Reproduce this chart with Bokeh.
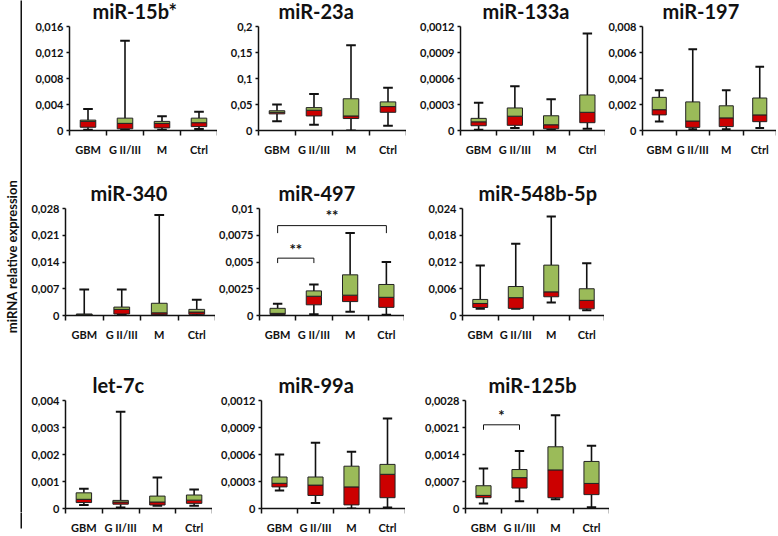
import numpy as np
from bokeh.plotting import figure
from bokeh.layouts import row, column
from bokeh.models import (FixedTicker, CustomJSTickFormatter, Range1d, LinearAxis,
                          Title, ColumnDataSource)
from bokeh.embed import file_html
from bokeh.resources import INLINE
from bokeh.core.properties import value

# ---------------- data ----------------
groups = ["GBM", "G II/III", "M", "Ctrl"]

# five-number summaries, one value per group (GBM, G II/III, M, Ctrl)
mir15b_star = dict(lo=[0.0001, 0.0001, 0.0001, 0.00025],
                   q1=[0.0005, 0.00026, 0.0004, 0.0006],
                   med=[0.0014, 0.0011, 0.0011, 0.0012],
                   q3=[0.0016, 0.0019, 0.0014, 0.0019],
                   hi=[0.0033, 0.0138, 0.0022, 0.0029])
mir23a = dict(lo=[0.018, 0.011, 0.0, 0.009],
              q1=[0.032, 0.028, 0.023, 0.035],
              med=[0.035, 0.039, 0.028, 0.046],
              q3=[0.038, 0.044, 0.061, 0.055],
              hi=[0.050, 0.070, 0.164, 0.082])
mir133a = dict(lo=[0.00001, 0.00003, 0.000005, 0.00002],
               q1=[0.000055, 0.00006, 0.00002, 0.00009],
               med=[0.0001, 0.000165, 0.000066, 0.00021],
               q3=[0.00014, 0.00026, 0.00017, 0.00041],
               hi=[0.00032, 0.00051, 0.00036, 0.00112])
mir197 = dict(lo=[0.0007, 0.0001, 0.0001, 0.0002],
              q1=[0.0012, 0.00024, 0.0003, 0.00068],
              med=[0.0016, 0.00073, 0.00097, 0.0012],
              q3=[0.00255, 0.0022, 0.0019, 0.0025],
              hi=[0.0031, 0.00625, 0.0031, 0.0049])
mir340 = dict(lo=[0.0, 0.0001, 0.0, 0.0],
              q1=[0.0001, 0.0004, 0.0002, 0.0003],
              med=[0.0002, 0.0016, 0.0007, 0.0009],
              q3=[0.0004, 0.0022, 0.0032, 0.0016],
              hi=[0.0068, 0.0068, 0.0263, 0.0041])
mir497 = dict(lo=[0.0, 0.00012, 0.00036, 0.00006],
              q1=[0.0001, 0.001, 0.0013, 0.00076],
              med=[0.0002, 0.0018, 0.0019, 0.0017],
              q3=[0.00067, 0.0023, 0.0038, 0.0029],
              hi=[0.0011, 0.0029, 0.0077, 0.005])
mir548b_5p = dict(lo=[0.0015, 0.0015, 0.0029, 0.0012],
                  q1=[0.0018, 0.0016, 0.0042, 0.0015],
                  med=[0.0027, 0.004, 0.0053, 0.0034],
                  q3=[0.0036, 0.0065, 0.0113, 0.006],
                  hi=[0.0112, 0.0161, 0.0222, 0.0117])
let7c = dict(lo=[0.00013, 0.00004, 0.0001, 0.0001],
             q1=[0.00022, 0.00016, 0.00013, 0.00019],
             med=[0.00034, 0.00024, 0.00024, 0.00031],
             q3=[0.00058, 0.0003, 0.00046, 0.0005],
             hi=[0.00073, 0.00358, 0.00115, 0.0007])
mir99a = dict(lo=[0.0002, 0.00006, 0.0, 0.00001],
              q1=[0.00024, 0.000145, 0.00004, 0.00012],
              med=[0.00028, 0.00026, 0.00024, 0.00038],
              q3=[0.00035, 0.00035, 0.00047, 0.00049],
              hi=[0.0006, 0.00073, 0.00063, 0.001])
mir125b = dict(lo=[0.00013, 0.00019, 0.00024, 0.00003],
               q1=[0.00028, 0.00053, 0.00028, 0.00036],
               med=[0.00034, 0.0008, 0.001, 0.00065],
               q3=[0.00059, 0.00101, 0.0016, 0.00122],
               hi=[0.00104, 0.00149, 0.00242, 0.00163])

# y-axis tick values per panel
ticks_15b = [0, 0.004, 0.008, 0.012, 0.016]
ticks_23a = [0, 0.05, 0.1, 0.15, 0.2]
ticks_133a = [0, 0.0003, 0.0006, 0.0009, 0.0012]
ticks_197 = [0, 0.002, 0.004, 0.006, 0.008]
ticks_340 = [0, 0.007, 0.014, 0.021, 0.028]
ticks_497 = [0, 0.0025, 0.005, 0.0075, 0.01]
ticks_548 = [0, 0.006, 0.012, 0.018, 0.024]
ticks_let7c = [0, 0.001, 0.002, 0.003, 0.004]
ticks_99a = [0, 0.0003, 0.0006, 0.0009, 0.0012]
ticks_125b = [0, 0.0007, 0.0014, 0.0021, 0.0028]

# significance brackets: (from group, to group, bar y, end y, star y, label)
brackets_497 = [(0, 1, 0.00536, 0.0049, 0.0062, "**"),
                (0, 3, 0.0084, 0.0077, 0.0094, "**")]
brackets_125b = [(0, 1, 0.00217, 0.00204, 0.00242, "*")]

y_title = "miRNA relative expression"

# ---------------- style / layout ----------------
FONT = "Lato"
GREEN = "#9BBB59"
RED = "#CC0000"
INK = "#111111"
BOX_W = 0.42
CAP_HALF = 0.13
TITLE_STANDOFF = 8

ROOT_TOP = -12
# row extents in window pixels (top, bottom)
ROWS = [(ROOT_TOP, 174), (174, 366), (366, 536)]
STRIP_RIGHT = 22
STRIP_SPLIT = 512   # y-title is centred on the upper part of the rule
RULE_END = 528

# frame geometry: left, right, top, bottom, title left offset
panels = [
    [("miR-15b*", mir15b_star, ticks_15b, [], (69, 217, 26, 130, 23)),
     ("miR-23a", mir23a, ticks_23a, [], (258, 406, 23, 133, 20)),
     ("miR-133a", mir133a, ticks_133a, [], (460, 605, 22, 132, 22)),
     ("miR-197", mir197, ticks_197, [], (641, 776, 20, 130, 20))],
    [("miR-340", mir340, ticks_340, [], (65, 215, 208, 315, 25)),
     ("miR-497", mir497, ticks_497, brackets_497, (259, 404, 206, 316, 19)),
     ("miR-548b-5p", mir548b_5p, ticks_548, [], (462, 604, 207, 316, 16))],
    [("let-7c", let7c, ticks_let7c, [], (65, 212, 398, 509, 27)),
     ("miR-99a", mir99a, ticks_99a, [], (261, 405, 399, 509, 17)),
     ("miR-125b", mir125b, ticks_125b, brackets_125b, (465, 609, 399, 510, 23))],
]


def make_panel(title, stats, yticks, brackets, g, fig_left, row_top, row_bottom):
    fl, fr, ft, fb, tdx = g
    n = len(groups)
    p = figure(width=fr - fig_left, height=row_bottom - row_top,
               x_range=Range1d(0, n), y_range=Range1d(0, yticks[-1]),
               title=None, toolbar_location=None, output_backend="svg",
               x_axis_location=None, y_axis_location=None,
               min_border_left=fl - fig_left, min_border_right=0,
               min_border_top=ft - row_top, min_border_bottom=row_bottom - fb,
               outline_line_color=None, background_fill_color="white",
               border_fill_color="white")
    p.grid.visible = False
    p.title = Title(text=title, align="left", offset=tdx, standoff=TITLE_STANDOFF,
                    text_font=FONT, text_font_size="20px", text_font_style="bold",
                    text_color=INK)

    xs = np.arange(n) + 0.5
    src = ColumnDataSource(dict(x=xs, cl=xs - CAP_HALF, cr=xs + CAP_HALF,
                                lo=stats["lo"], q1=stats["q1"], med=stats["med"],
                                q3=stats["q3"], hi=stats["hi"]))
    p.segment(x0="x", y0="q3", x1="x", y1="hi", source=src, line_color=INK, line_width=1.6)
    p.segment(x0="x", y0="lo", x1="x", y1="q1", source=src, line_color=INK, line_width=1.6)
    p.segment(x0="cl", y0="hi", x1="cr", y1="hi", source=src, line_color=INK, line_width=2)
    p.segment(x0="cl", y0="lo", x1="cr", y1="lo", source=src, line_color=INK, line_width=2)
    p.vbar(x="x", width=BOX_W, bottom="q1", top="med", source=src,
           fill_color=RED, line_color="#222222", line_width=1)
    p.vbar(x="x", width=BOX_W, bottom="med", top="q3", source=src,
           fill_color=GREEN, line_color="#222222", line_width=1)

    if brackets:
        bx0 = [b[0] + 0.5 for b in brackets]
        bx1 = [b[1] + 0.5 for b in brackets]
        bsrc = ColumnDataSource(dict(x0=bx0, x1=bx1,
                                     bar=[b[2] for b in brackets],
                                     end=[b[3] for b in brackets],
                                     xm=[(a + b) / 2 for a, b in zip(bx0, bx1)],
                                     sy=[b[4] for b in brackets],
                                     lab=[b[5] for b in brackets]))
        p.segment(x0="x0", y0="bar", x1="x1", y1="bar", source=bsrc, line_color=INK, line_width=1)
        p.segment(x0="x0", y0="bar", x1="x0", y1="end", source=bsrc, line_color=INK, line_width=1)
        p.segment(x0="x1", y0="bar", x1="x1", y1="end", source=bsrc, line_color=INK, line_width=1)
        p.text(x="xm", y="sy", text="lab", source=bsrc, text_font=value(FONT),
               text_font_style="bold", text_font_size="15px", text_align="center",
               text_baseline="middle", text_color=INK)

    yax = LinearAxis(ticker=FixedTicker(ticks=yticks),
                     formatter=CustomJSTickFormatter(code="return tick.toString().replace('.', ',');"),
                     major_tick_out=3, major_tick_in=0, minor_tick_out=0, minor_tick_in=0,
                     major_label_standoff=3, axis_line_width=1.5, axis_line_color=INK,
                     major_tick_line_width=1.5, major_tick_line_color=INK,
                     major_label_text_font=FONT, major_label_text_font_size="11px",
                     major_label_text_font_style="bold", major_label_text_color=INK)
    p.add_layout(yax, "left")

    xax = LinearAxis(ticker=FixedTicker(ticks=[float(v) for v in xs],
                                        minor_ticks=[float(v) for v in range(n + 1)]),
                     formatter=CustomJSTickFormatter(args=dict(labels=groups),
                                                     code="return labels[Math.floor(tick)];"),
                     major_tick_out=0, major_tick_in=0, major_tick_line_color=None,
                     minor_tick_out=5, minor_tick_in=0, minor_tick_line_width=1.5,
                     minor_tick_line_color=INK,
                     major_label_standoff=7, axis_line_width=1.5, axis_line_color=INK,
                     major_label_text_font=FONT, major_label_text_font_size="11px",
                     major_label_text_font_style="bold", major_label_text_color=INK)
    p.add_layout(xax, "below")
    return p


rows = []
for (rtop, rbot), specs in zip(ROWS, panels):
    figs = []
    left = STRIP_RIGHT
    for title, stats, yt, br, g in specs:
        figs.append(make_panel(title, stats, yt, br, g, left, rtop, rbot))
        left = g[1]
    rows.append(row(*figs))


def make_strip(height, top, bottom, label):
    s = figure(width=STRIP_RIGHT, height=height,
               x_range=(0, 1), y_range=(0, 1), title=None,
               toolbar_location=None, output_backend="svg",
               x_axis_location=None, y_axis_location=None,
               min_border_left=17, min_border_right=0, min_border_top=top,
               min_border_bottom=bottom, outline_line_color=None,
               background_fill_color="white", border_fill_color="white")
    s.grid.visible = False
    ax = LinearAxis(ticker=FixedTicker(ticks=[]), axis_label=label,
                    axis_label_standoff=2, axis_label_text_font=FONT,
                    axis_label_text_font_size="13px", axis_label_text_font_style="bold",
                    axis_label_text_color=INK,
                    major_tick_line_color=None, minor_tick_line_color=None,
                    axis_line_width=2, axis_line_color=INK)
    s.add_layout(ax, "left")
    return s


strip_top = make_strip(STRIP_SPLIT - ROOT_TOP, -ROOT_TOP, 0, y_title)
strip_bot = make_strip(ROWS[-1][1] - STRIP_SPLIT, 0, ROWS[-1][1] - RULE_END, None)
strip = column(strip_top, strip_bot)

root = row(strip, column(*rows), margin=(ROOT_TOP, 0, 0, 0))

open("out.html", "w").write(file_html(root, INLINE))
